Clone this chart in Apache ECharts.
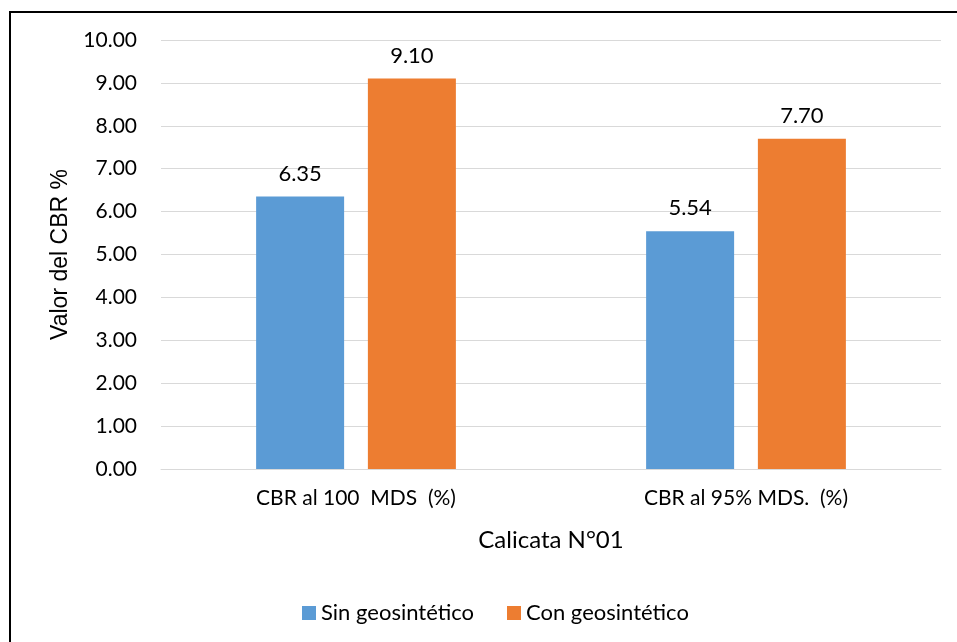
<!DOCTYPE html>
<html><head><meta charset="utf-8">
<script src="https://cdn.jsdelivr.net/npm/echarts@6/dist/echarts.min.js"></script>
<style>html,body{margin:0;padding:0;background:#fff;}#c{width:957px;height:642px;position:relative;}
#frame{position:absolute;left:9px;top:11px;width:960px;height:640px;border-left:2px solid #000;border-top:2px solid #000;pointer-events:none;}</style>
</head><body><div id="c"></div><div id="frame"></div>
<script>
const categories = ['CBR al 100  MDS  (%)', 'CBR al 95% MDS.  (%)'];
const sinGeo = [6.35, 5.54];
const conGeo = [9.10, 7.70];
const seriesNames = ['Sin geosintético', 'Con geosintético'];
const FONT = 'Lato, "Open Sans", sans-serif';
const chart = echarts.init(document.getElementById('c'));
chart.setOption({
  animation: false,
  textStyle: {fontFamily: FONT},
  grid: {left: 161, right: 16, top: 40, bottom: 173},
  legend: {
    top: 597, left: 297, itemWidth: 14, itemHeight: 14, itemGap: 33,
    icon: 'rect',
    textStyle: {fontSize: 22, color: '#000', fontFamily: FONT},
    data: seriesNames
  },
  xAxis: {
    type: 'category', data: categories,
    axisLine: {lineStyle: {color: '#d9d9d9', width: 1}},
    axisTick: {show: false},
    axisLabel: {fontSize: 21, color: '#000', margin: 19, fontFamily: FONT},
    name: 'Calicata N°01', nameLocation: 'middle', nameGap: 59,
    nameTextStyle: {fontSize: 24, color: '#000', fontFamily: FONT}
  },
  yAxis: {
    type: 'value', min: 0, max: 10, interval: 1,
    axisLabel: {fontSize: 21, color: '#000', margin: 24, formatter: v => v.toFixed(2), fontFamily: FONT},
    splitLine: {lineStyle: {color: '#d9d9d9', width: 1}},
    axisLine: {show: false}, axisTick: {show: false},
    name: 'Valor del CBR %', nameLocation: 'middle', nameGap: 87,
    nameTextStyle: {fontSize: 23, color: '#000', fontFamily: '"Liberation Sans", Arial, sans-serif'}
  },
  series: [
    {name: seriesNames[0], type: 'bar', data: sinGeo, barWidth: 88, barGap: '27%',
     itemStyle: {color: '#5b9bd5'},
     label: {show: true, position: 'top', distance: 12, fontSize: 22, color: '#000', formatter: p => p.value.toFixed(2), fontFamily: FONT}},
    {name: seriesNames[1], type: 'bar', data: conGeo, barWidth: 88, barGap: '27%',
     itemStyle: {color: '#ed7d31'},
     label: {show: true, position: 'top', distance: 12, fontSize: 22, color: '#000', formatter: p => p.value.toFixed(2), fontFamily: FONT}}
  ]
});
</script></body></html>
